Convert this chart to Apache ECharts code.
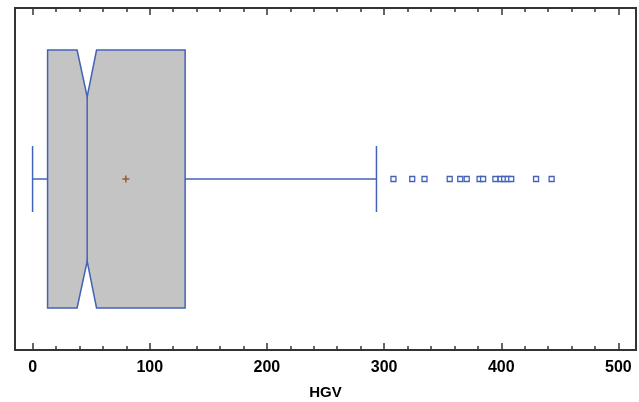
<!DOCTYPE html>
<html>
<head>
<meta charset="utf-8">
<script src="https://cdn.jsdelivr.net/npm/echarts@6/dist/echarts.min.js"></script>
<style>
  html, body { margin: 0; padding: 0; background: #fff; }
  #chart { width: 639px; height: 402px; }
</style>
</head>
<body>
<div id="chart"></div>
<script>
// box plot statistics for HGV
var variableName = 'HGV';
var boxStats = [0, 12.8, 46.6, 130.2, 293.5];   // low whisker, Q1, median, Q3, high whisker
var notchBounds = [38, 54.6];
var meanValue = [79.6];
var outliers = [308, 324, 334.5, 356, 365, 370.5, 381.5, 384.5, 395, 399.5, 402.5, 405.5, 408.5, 429.7, 443];
var majorTicks = [0, 100, 200, 300, 400, 500];
var minorTicks = [];
for (var t = 20; t < 520; t += 20) {
  if (t % 100 !== 0) minorTicks.push(t);
}

var blue = '#4463b8';
var frame = '#333';

function boxRender(params, api) {
  var lo = api.value(0), q1 = api.value(1), med = api.value(2), q3 = api.value(3), hi = api.value(4);
  var nLo = api.value(5), nHi = api.value(6);
  var h = 0.754, nh = 0.481, cap = 0.193;
  var p = function (x, y) { return api.coord([x, y]); };
  var poly = [
    p(q1, h), p(nLo, h), p(med, nh), p(nHi, h), p(q3, h),
    p(q3, -h), p(nHi, -h), p(med, -nh), p(nLo, -h), p(q1, -h)
  ];
  var line = function (a, b) {
    return {
      type: 'line',
      shape: { x1: a[0], y1: a[1], x2: b[0], y2: b[1] },
      style: { stroke: blue, lineWidth: 1.5 }
    };
  };
  return {
    type: 'group',
    children: [
      line(p(lo, 0), p(q1, 0)),
      line(p(q3, 0), p(hi, 0)),
      line(p(lo, cap), p(lo, -cap)),
      line(p(hi, cap), p(hi, -cap)),
      {
        type: 'polygon',
        shape: { points: poly },
        style: { fill: '#c4c4c4', stroke: blue, lineWidth: 1.5 }
      },
      line(p(med, nh), p(med, -nh))
    ]
  };
}

function meanRender(params, api) {
  var c = api.coord([api.value(0), 0]);
  var s = 3.5;
  var st = { stroke: '#9a5a2e', lineWidth: 1.5 };
  return {
    type: 'group',
    children: [
      { type: 'line', shape: { x1: c[0] - s, y1: c[1], x2: c[0] + s, y2: c[1] }, style: st },
      { type: 'line', shape: { x1: c[0], y1: c[1] - s, x2: c[0], y2: c[1] + s }, style: st }
    ]
  };
}

function xAxisDef(pos, ticks, len, withLabels) {
  return {
    type: 'value',
    position: pos,
    min: -15,
    max: 515,
    splitLine: { show: false },
    axisLine: { show: true, onZero: false, lineStyle: { color: frame, width: 2 } },
    axisTick: {
      show: true, inside: true, length: len, customValues: ticks,
      lineStyle: { color: frame, width: 1.5 }
    },
    axisLabel: withLabels ? {
      show: true, customValues: majorTicks, margin: 10,
      color: '#000', fontSize: 16, fontWeight: 'bold', fontFamily: 'Liberation Sans, Arial, sans-serif'
    } : { show: false },
    name: withLabels ? variableName : '',
    nameLocation: 'middle',
    nameGap: 35,
    nameTextStyle: { color: '#000', fontSize: 15, fontWeight: 'bold', fontFamily: 'Liberation Sans, Arial, sans-serif' }
  };
}

var chart = echarts.init(document.getElementById('chart'), null, { renderer: 'canvas' });
chart.setOption({
  animation: false,
  backgroundColor: '#fff',
  grid: {
    left: 15, right: 3, top: 8, bottom: 52,
    outerBoundsMode: 'none', containLabel: false,
    show: true, borderColor: frame, borderWidth: 2
  },
  xAxis: [
    xAxisDef('bottom', majorTicks, 7, true),
    xAxisDef('bottom', minorTicks, 4, false),
    xAxisDef('top', majorTicks, 7, false),
    xAxisDef('top', minorTicks, 4, false)
  ],
  yAxis: { type: 'value', min: -1, max: 1, show: false },
  series: [
    {
      type: 'custom',
      renderItem: boxRender,
      encode: { x: [0, 1, 2, 3, 4, 5, 6] },
      data: [boxStats.concat(notchBounds)],
      z: 2
    },
    {
      type: 'custom',
      renderItem: meanRender,
      encode: { x: 0 },
      data: meanValue.map(function (v) { return [v]; }),
      z: 3
    },
    {
      type: 'scatter',
      symbol: 'rect',
      symbolSize: 5,
      itemStyle: { color: '#fff', borderColor: blue, borderWidth: 1.3, opacity: 1 },
      data: outliers.map(function (v) { return [v, 0]; }),
      z: 3
    }
  ]
});
</script>
</body>
</html>
